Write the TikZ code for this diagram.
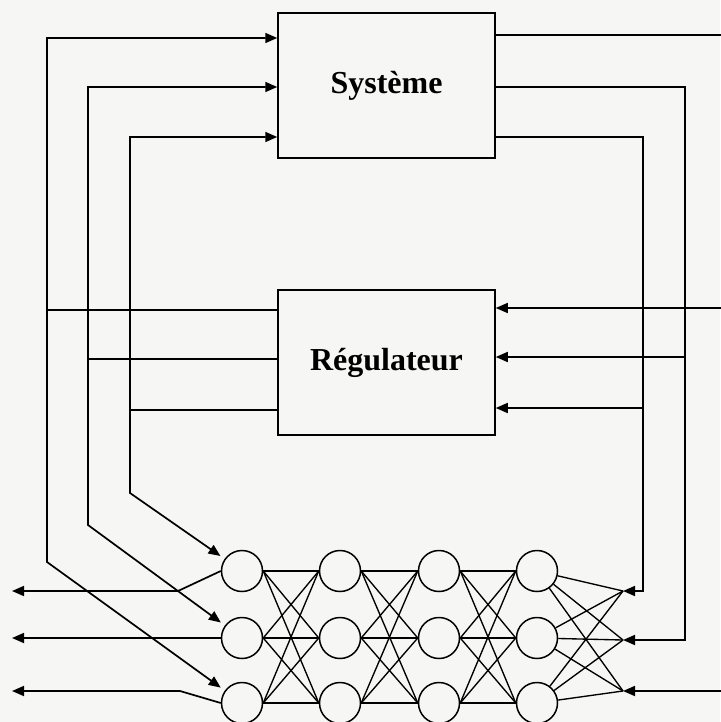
\documentclass[tikz,border=0pt]{standalone}
\usepackage{fontspec}
\setmainfont{Liberation Serif}
\usetikzlibrary{arrows.meta}
\definecolor{Paper}{rgb}{0.965, 0.965, 0.960}

\begin{document}
\begin{tikzpicture}[
  x=1pt, y=-1pt,
  every node/.style={inner sep=0pt},
  block/.style={draw, line width=1.5pt, minimum width=217pt, minimum height=145pt,
    font=\fontsize{32}{38}\selectfont\bfseries},
  neuron/.style={draw, circle, line width=1.5pt, minimum size=41pt},
  wire/.style={line width=1.7pt},
  link/.style={line width=1.35pt},
  arr/.style={wire, -{Triangle[length=12pt, width=10pt]}},
  biarr/.style={wire, {Triangle[length=12pt, width=10pt]}-{Triangle[length=12pt, width=10pt]}}
]

% Page
\fill[Paper] (0,0) rectangle (720,722);
\useasboundingbox (0,0) rectangle (720,722);

% ============================================================
% BLOCKS
% ============================================================
\node[block] (sys) at (386.5,85.5) {Système};
\node[block] (reg) at (386.5,362.5) {Régulateur};

% ports on the blocks
\coordinate (sysI1) at ([yshift=47.5pt]sys.west);
\coordinate (sysI2) at ([yshift=-1.5pt]sys.west);
\coordinate (sysI3) at ([yshift=-51.5pt]sys.west);
\coordinate (sysO1) at ([yshift=50.5pt]sys.east);
\coordinate (sysO2) at ([yshift=-1.5pt]sys.east);
\coordinate (sysO3) at ([yshift=-51.5pt]sys.east);
\coordinate (regO1) at ([yshift=52.5pt]reg.west);
\coordinate (regO2) at ([yshift=3.5pt]reg.west);
\coordinate (regO3) at ([yshift=-47.5pt]reg.west);
\coordinate (regI1) at ([yshift=54.5pt]reg.east);
\coordinate (regI2) at ([yshift=5.5pt]reg.east);
\coordinate (regI3) at ([yshift=-45.5pt]reg.east);

% ============================================================
% NETWORK: 4 layers of 3 neurons
% ============================================================
\foreach \x [count=\c] in {242,340,439,537}{
  \foreach \y [count=\r] in {571,638,703}{
    \node[neuron] (n-\c-\r) at (\x,\y) {};
  }
}

% full links between layers
\foreach \c [evaluate=\c as \d using int(\c+1)] in {1,2,3}{
  \foreach \r in {1,2,3}{
    \foreach \s in {1,2,3}{
      \draw[link] (n-\c-\r.east) -- (n-\d-\s.west);
    }
  }
}

% ============================================================
% LEFT BUS: Système inputs, Régulateur outputs, network inputs
% ============================================================
\coordinate (busL1) at (47,562);
\coordinate (busL2) at (88,525);
\coordinate (busL3) at (130,493);

\draw[biarr, shorten <=5pt] (n-1-3) -- (busL1) |- (sysI1);
\draw[biarr, shorten <=5pt] (n-1-2) -- (busL2) |- (sysI2);
\draw[biarr, shorten <=5pt] (n-1-1) -- (busL3) |- (sysI3);

\draw[wire] (regO1) -- (regO1 -| busL1);
\draw[wire] (regO2) -- (regO2 -| busL2);
\draw[wire] (regO3) -- (regO3 -| busL3);

% network outputs to the left
\coordinate (outB1) at (178,591);
\coordinate (outB3) at (180,691);
\coordinate (out1) at (12,591);
\coordinate (out2) at (12,638);
\coordinate (out3) at (12,691);

\draw[arr] (n-1-1.west) -- (outB1) -- (out1);
\draw[arr] (n-1-2.west) -- (out2);
\draw[arr] (n-1-3.west) -- (outB3) -- (out3);

% ============================================================
% RIGHT BUS: Système outputs, Régulateur inputs, network targets
% ============================================================
\coordinate (edge) at (726,0);
\coordinate (busR1) at (643,591);
\coordinate (busR2) at (685,640);
\coordinate (tipR1) at (623,591);
\coordinate (tipR2) at (623,640);
\coordinate (tipR3) at (623,691);

\draw[wire] (sysO1) -- (sysO1 -| edge);
\draw[arr] (sysO2) -| (busR2) -- (tipR2);
\draw[arr] (sysO3) -| (busR1) -- (tipR1);
\draw[arr] (tipR3 -| edge) -- (tipR3);

\draw[arr] (regI1 -| edge) -- (regI1);
\draw[arr] (regI2 -| busR2) -- (regI2);
\draw[arr] (regI3 -| busR1) -- (regI3);

% last layer fans out to the three targets
\foreach \r in {1,2,3}{
  \foreach \s in {1,2,3}{
    \draw[link] (n-4-\r) -- (tipR\s);
  }
}

\end{tikzpicture}
\end{document}
